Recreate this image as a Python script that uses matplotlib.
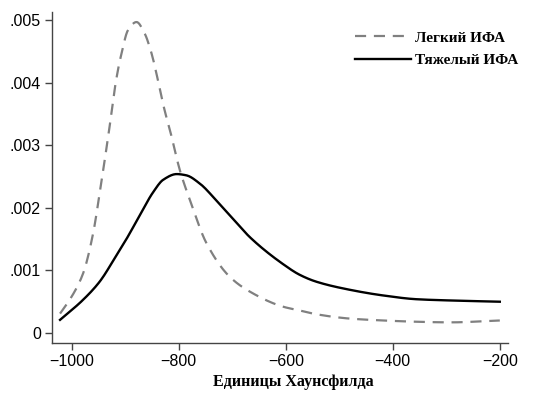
import matplotlib
matplotlib.use("Agg")
import matplotlib.pyplot as plt
import numpy as np

# values (Hounsfield units -> density)
light_x = [-1022, -1004, -979, -960, -948, -932, -916, -907, -895, -879, -864,
           -851, -839, -828, -815, -798, -779, -748, -705, -667, -605, -574,
           -543, -480, -418, -356, -293, -200]
light_y = [0.00031, 0.00053, 0.00095, 0.0016, 0.00223, 0.00314, 0.0041,
           0.00447, 0.00484, 0.00497, 0.00479, 0.00447, 0.00404, 0.00361,
           0.00319, 0.0026, 0.00212, 0.00143, 0.0009, 0.00066, 0.00042,
           0.00036, 0.0003, 0.00023, 0.0002, 0.00018, 0.00017, 0.0002]

heavy_x = [-1022, -979, -948, -916, -898, -873, -848, -829, -804, -786, -761,
           -730, -692, -667, -605, -574, -543, -480, -418, -356, -293, -200]
heavy_y = [0.00021, 0.00053, 0.00082, 0.00125, 0.0015, 0.00188, 0.00225,
           0.00245, 0.00254, 0.00252, 0.00239, 0.00212, 0.00176, 0.00153,
           0.0011, 0.00093, 0.00082, 0.00069, 0.0006, 0.00054, 0.00052,
           0.0005]

labels = ["Легкий ИФА", "Тяжелый ИФА"]
xticks = [-1000, -800, -600, -400, -200]
yticks = [0, 0.001, 0.002, 0.003, 0.004, 0.005]
ytick_labels = ["0", ".001", ".002", ".003", ".004", ".005"]


def smooth(xs, ys, n=400):
    # piecewise cubic hermite through the read points
    xs = np.asarray(xs, float)
    ys = np.asarray(ys, float)
    xn = np.linspace(xs[0], xs[-1], n)
    d = np.diff(ys) / np.diff(xs)
    m = np.zeros_like(ys)
    m[0], m[-1] = d[0], d[-1]
    for i in range(1, len(xs) - 1):
        if d[i - 1] * d[i] <= 0:
            m[i] = 0
        else:
            w1 = 2 * (xs[i + 1] - xs[i]) + (xs[i] - xs[i - 1])
            w2 = (xs[i + 1] - xs[i]) + 2 * (xs[i] - xs[i - 1])
            m[i] = (w1 + w2) / (w1 / d[i - 1] + w2 / d[i])
    idx = np.clip(np.searchsorted(xs, xn) - 1, 0, len(xs) - 2)
    h = xs[idx + 1] - xs[idx]
    t = (xn - xs[idx]) / h
    h00 = 2 * t**3 - 3 * t**2 + 1
    h10 = t**3 - 2 * t**2 + t
    h01 = -2 * t**3 + 3 * t**2
    h11 = t**3 - t**2
    yn = h00 * ys[idx] + h10 * h * m[idx] + h01 * ys[idx + 1] + h11 * h * m[idx + 1]
    return xn, yn


fig = plt.figure(figsize=(5.34, 3.95), dpi=100)
ax = fig.add_axes([0.0974, 0.1316, 0.8536, 0.838])

lx, ly = smooth(light_x, light_y)
hx, hy = smooth(heavy_x, heavy_y)
ax.plot(lx, ly, color="#808080", lw=1.6, dashes=(5, 3.5), label=labels[0])
ax.plot(hx, hy, color="black", lw=1.7, label=labels[1])

ax.set_xlim(-1037, -185)
ax.set_ylim(-0.00016, 0.00513)
ax.set_xticks(xticks)
ax.set_xticklabels(["\u2212" + str(-v) for v in xticks])
ax.set_yticks(yticks)
ax.set_yticklabels(ytick_labels)

for s in ["top", "right"]:
    ax.spines[s].set_visible(False)
for s in ["left", "bottom"]:
    ax.spines[s].set_color("#444444")
    ax.spines[s].set_linewidth(1.0)
ax.tick_params(length=5, width=1, color="#444444", labelsize=11.5, pad=3)
for lab in ax.get_xticklabels() + ax.get_yticklabels():
    lab.set_family("Liberation Sans")

ax.set_xlabel("Единицы Хаунсфилда", family="Liberation Serif",
              fontweight="bold", fontsize=11.5)
ax.xaxis.set_label_coords(0.53, -0.095)

leg = ax.legend(loc="upper left", bbox_to_anchor=(0.664, 0.943), frameon=False,
                prop={"family": "Liberation Serif", "weight": "bold", "size": 11},
                handlelength=3.7, handletextpad=0.25, labelspacing=0.6,
                borderpad=0, borderaxespad=0)

fig.savefig("out.png", dpi=100)
